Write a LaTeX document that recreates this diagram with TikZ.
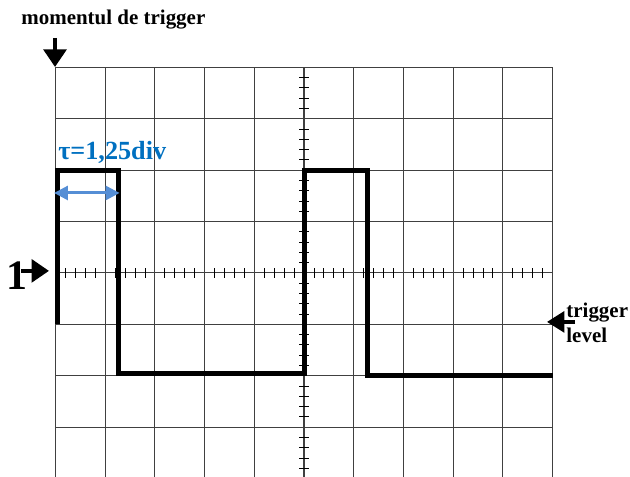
\documentclass[tikz,border=0pt]{standalone}
\usepackage{fontspec}
\setmainfont{Liberation Serif}
\usetikzlibrary{arrows.meta, positioning}
\definecolor{taublue}{HTML}{0070C0}
\definecolor{arrowblue}{HTML}{558ED5}

\begin{document}
\begin{tikzpicture}[x=1cm, y=1.034cm,
    % Screen styles
    gridline/.style={draw=black!75, line width=0.6pt},
    tickmark/.style={draw=black, line width=0.5pt},
    signal/.style={draw=black, line width=2.85pt, line join=miter},
    % Marker styles
    marker/.style={-{Triangle[length=10pt, width=13pt]}, line width=2pt, draw=black},
    taumark/.style={{Triangle[length=8pt, width=8pt]}-{Triangle[length=8pt, width=8pt]}, line width=1.7pt, draw=arrowblue},
    lbl/.style={font=\fontsize{12}{14}\selectfont\bfseries, inner sep=0pt},
    taulbl/.style={font=\fontsize{15}{17}\selectfont\bfseries, text=taublue, inner sep=0pt},
    chlbl/.style={font=\fontsize{24}{26}\selectfont\bfseries, inner sep=0pt},
]
\useasboundingbox (-6.117,-3.969) rectangle (6.559,5.311);

% ============================================================================
% GRID
% ============================================================================
\foreach \i in {-5,...,5}
    \draw[gridline] (\i,-3.97) -- (\i,4);
\foreach \j in {-3,...,4}
    \draw[gridline] (-5,\j) -- (5,\j);

% Subdivision ticks on both axes
\foreach \i in {-5,...,4}
    \foreach \k in {0.2,0.4,0.6,0.8}
        \draw[tickmark] (\i+\k,-0.097) -- (\i+\k,0.097);
\foreach \j in {-4,...,3}
    \foreach \k in {0.2,0.4,0.6,0.8}
        \draw[tickmark] (-0.1,\j+\k) -- (0.1,\j+\k);

% ============================================================================
% SIGNAL
% ============================================================================
\draw[signal] (-4.96,-1) -- (-4.96,2) -- (-3.73,2) -- (-3.73,-1.96)
    -- (0,-1.96) -- (0,2) -- (1.28,2) -- (1.28,-1.99) -- (5,-1.99);

% Pulse width
\coordinate (tauL) at (-5.03,1.556);
\coordinate (tauR) at (-3.71,1.556);
\draw[taumark] (tauL) -- (tauR);
\node[taulbl, anchor=base west] (tau) at (-4.95,2.198) {τ=1,25div};

% ============================================================================
% MARKERS
% ============================================================================
% trigger moment
\node[lbl, anchor=base west] (moment) at (-5.694,4.825) {momentul de trigger};
\coordinate (momtop) at (-5.01,4.572);
\coordinate (momtip) at (-5.01,4.008);
\draw[marker] (momtop) -- (momtip);

% channel 1 ground
\node[chlbl, anchor=base west] (ch) at (-5.996,-0.331) {1};
\coordinate (chtail) at (-5.694,0.04);
\coordinate (chtip) at (-5.131,0.04);
\draw[marker, line width=2.3pt] (chtail) -- (chtip);

% trigger level
\coordinate (trigtail) at (5.453,-0.953);
\coordinate (trigtip) at (4.889,-0.953);
\draw[marker, -{Triangle[length=10pt, width=12pt]}] (trigtail) -- (trigtip);
\node[lbl, anchor=base west] (trig) at (5.272,-0.875) {trigger};
\node[lbl, anchor=base west] (lev) at ([yshift=-14.3pt]trig.base west) {level};

\end{tikzpicture}
\end{document}
